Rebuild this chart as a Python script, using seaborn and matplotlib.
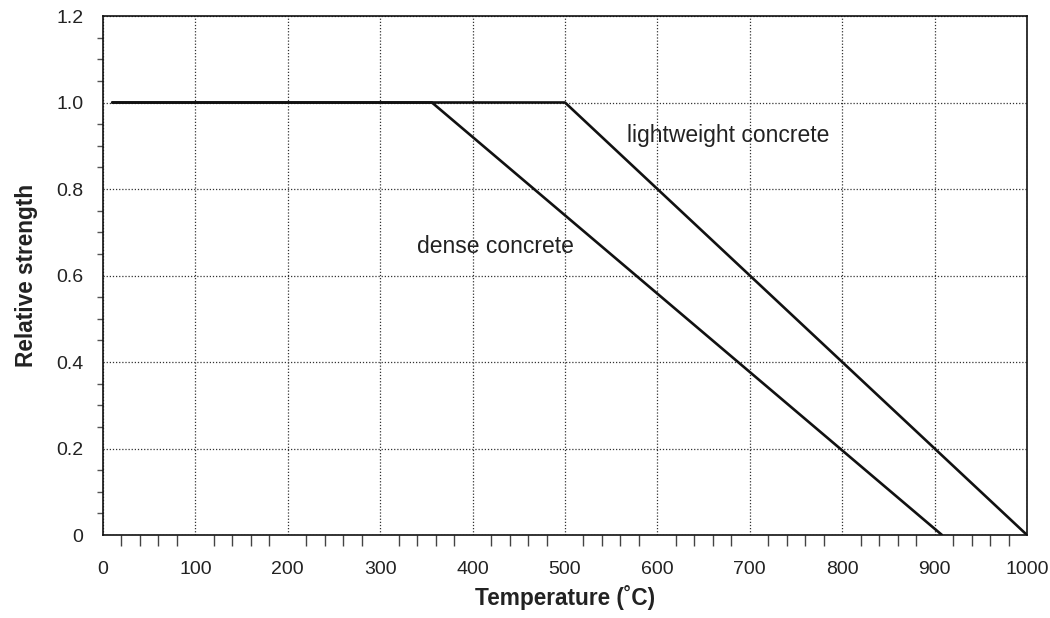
import matplotlib
matplotlib.use("Agg")
import matplotlib.pyplot as plt
import numpy as np
import pandas as pd
import seaborn as sns
from matplotlib.ticker import MultipleLocator, FixedLocator, FixedFormatter

# ---- data ----
dense_temp = [10, 356, 908]
dense_strength = [1.0, 1.0, 0.0]
light_temp = [10, 500, 1000]
light_strength = [1.0, 1.0, 0.0]

x_ticks = [0, 100, 200, 300, 400, 500, 600, 700, 800, 900, 1000]
y_ticks = [0, 0.2, 0.4, 0.6, 0.8, 1.0, 1.2]
y_tick_labels = ["0", "0.2", "0.4", "0.6", "0.8", "1.0", "1.2"]

label_dense = "dense concrete"
label_light = "lightweight concrete"

df = pd.DataFrame({
    "temp": dense_temp + light_temp,
    "strength": dense_strength + light_strength,
    "concrete": ["dense"] * len(dense_temp) + ["light"] * len(light_temp),
})

sns.set_theme(style="white")
plt.rcParams['font.family'] = ['Liberation Sans', 'DejaVu Sans']

fig = plt.figure(figsize=(10.5, 6.18), dpi=100)
ax = fig.add_axes([0.0981, 0.1343, 0.880, 0.8398])

ax.set_axisbelow(True)
ax.grid(True, which="major", linestyle=(0, (1, 1.5)), color="#333333", linewidth=0.9)

sns.lineplot(data=df, x="temp", y="strength", hue="concrete",
             palette=["#111111", "#111111"], legend=False, linewidth=1.9,
             sort=False, estimator=None, ax=ax)

ax.set_xlim(0, 1000)
ax.set_ylim(0, 1.2)
ax.xaxis.set_major_locator(FixedLocator(x_ticks))
ax.xaxis.set_minor_locator(MultipleLocator(20))
ax.yaxis.set_major_locator(FixedLocator(y_ticks))
ax.yaxis.set_major_formatter(FixedFormatter(y_tick_labels))
ax.yaxis.set_minor_locator(MultipleLocator(0.05))

for s in ax.spines.values():
    s.set_visible(True)
    s.set_color("#111111")
    s.set_linewidth(1.2)

ax.tick_params(axis="x", which="major", direction="out", length=15, width=1.3,
               color="#444444", labelsize=14, labelcolor="#222222", pad=4)
ax.tick_params(axis="x", which="minor", direction="out", length=8, width=1.0,
               color="#444444", bottom=True)
ax.tick_params(axis="y", which="major", direction="out", length=10, width=1.0,
               color="#555555", labelsize=14, labelcolor="#222222", pad=4)
ax.tick_params(axis="y", which="minor", direction="out", length=4.5, width=1.0,
               color="#555555", left=True)

ax.set_xlabel("Temperature (˚C)", fontsize=16.3, fontweight="bold", color="#222222", labelpad=5)
ax.set_ylabel("Relative strength", fontsize=16.3, fontweight="bold", color="#222222", labelpad=13)

ax.text(677, 0.923, label_light, fontsize=16.5, color="#222222", ha="center", va="center")
ax.text(425, 0.668, label_dense, fontsize=16.5, color="#222222", ha="center", va="center")

fig.savefig("out.png", dpi=100)
